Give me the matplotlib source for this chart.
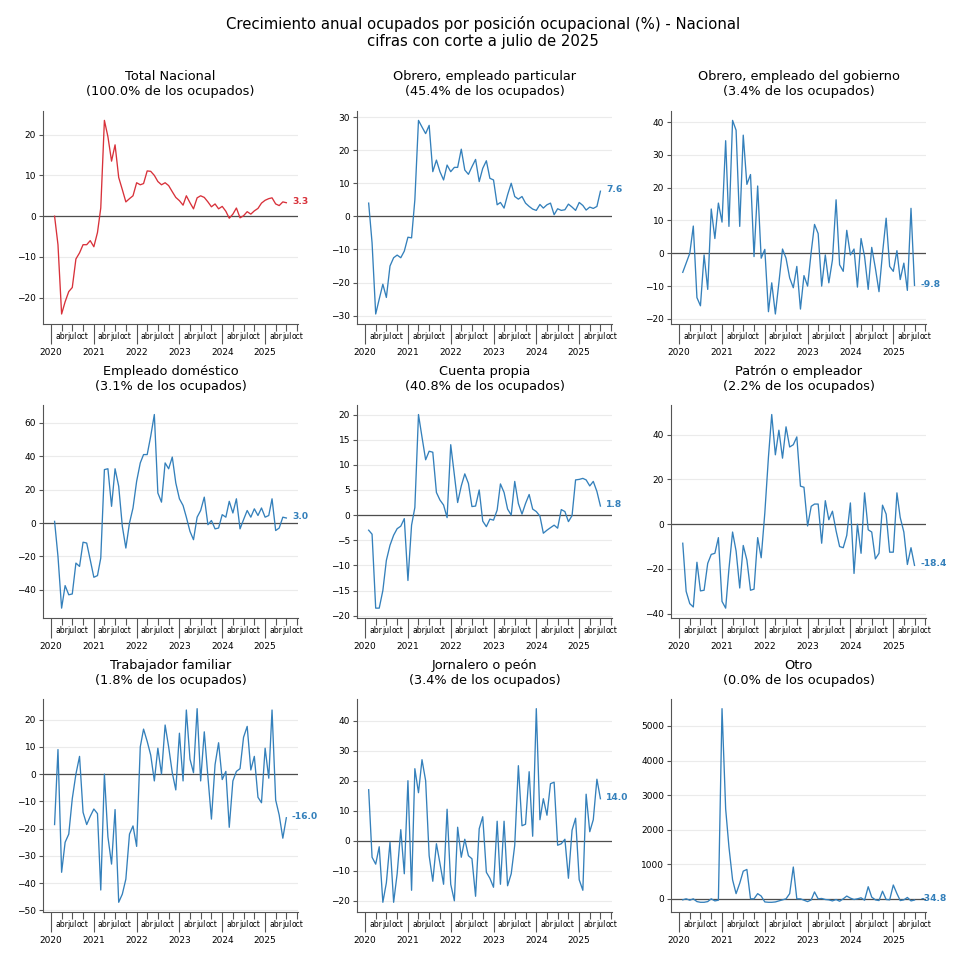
import matplotlib
matplotlib.use("Agg")
from matplotlib import pyplot as plt
import matplotlib.dates as mdates
from matplotlib.ticker import MultipleLocator, FuncFormatter
import numpy as np
import pandas as pd

# meses de feb-2020 a jul-2025
fechas = pd.date_range("2020-02-01", "2025-07-01", freq="MS").to_pydatetime()

categorias = ["Total Nacional", "Obrero, empleado particular",
              "Obrero, empleado del gobierno", "Empleado doméstico",
              "Cuenta propia", "Patrón o empleador", "Trabajador familiar",
              "Jornalero o peón", "Otro"]
participacion = [100.0, 45.4, 3.4, 3.1, 40.8, 2.2, 1.8, 3.4, 0.0]

total_nacional = [0, -7, -24, -21, -18.5, -17.5, -10.5, -9, -7, -7, -6,
                  -7.5, -4, 2, 23.5, 19.5, 13.5, 17.5, 9.5, 6.5, 3.5, 4.3, 5,
                  8.2, 7.7, 8, 11.1, 11, 10, 8.5, 7.7, 8.2, 7.5, 6, 4.6,
                  3.8, 2.7, 5, 3.3, 1.8, 4.5, 5, 4.6, 3.5, 2.3, 3, 1.8,
                  2.4, 1.2, -0.5, 0.5, 2, -0.4, 0.1, 1.1, 0.5, 1.3, 1.9, 3.2,
                  3.9, 4.3, 4.5, 3, 2.6, 3.5, 3.3]
particular = [4, -8, -29.5, -25, -20.5, -24.5, -15, -12.5, -11.7, -12.5, -10.5,
              -6.3, -6.5, 5, 29, 27, 25, 27.5, 13.5, 17, 13.5, 11, 15.5,
              13.5, 14.8, 14.8, 20.3, 14, 12.7, 15, 17.2, 10.5, 14.5, 16.8, 11.5,
              11, 3.5, 4.2, 2.5, 6.5, 10, 6, 5.2, 6, 4, 3, 2.2,
              1.8, 3.6, 2.5, 3.5, 4, 0.5, 2.3, 1.8, 2, 3.7, 2.8, 1.8,
              4.2, 3.3, 1.9, 2.8, 2.4, 3, 7.6]
gobierno = [-5.8, -3, 0, 8.3, -13.5, -16, -0.5, -11, 13.5, 4.5, 15.3,
            9.5, 34.3, 8.2, 40.5, 37.5, 8.2, 36, 21, 24, -1, 20.5, -1.5,
            1.2, -17.8, -9, -18.5, -9, 1.3, -1.5, -7.5, -10.5, -4, -17, -6.8,
            -10, 0.5, 8.8, 6, -10, -0.5, -9, -2, 16.3, -3.5, -5.5, 7,
            -0.5, 1.3, -10.3, 4.5, -1, -11, 1.8, -4.5, -11.7, 0, 10.7, -4,
            -5.5, 0.8, -8, -3, -11.3, 13.7, -9.8]
domestico = [1, -20, -51, -37.5, -43, -42.5, -24, -26, -11.5, -12, -22,
             -32.5, -31.5, -21, 32, 32.5, 10, 32.5, 22, -2, -15, 0, 9,
             25, 36, 41, 41, 52, 65, 18, 12.5, 36, 32.5, 39.5, 24,
             14.5, 10.5, 3.5, -5, -10, 3.5, 7.5, 15.5, -1, 1.5, -3.5, -3,
             5, 3.5, 13, 6, 14.5, -3.5, 2, 7.5, 3.5, 8.5, 4.5, 9,
             3.5, 4.5, 14.5, -4.5, -3, 3.5, 3.0]
cuenta_propia = [-3, -3.8, -18.5, -18.5, -15, -9, -6, -4, -2.7, -2.2, -0.7,
                 -13, -2, 1.5, 20, 15.5, 11, 12.7, 12.5, 4.5, 3, 2, -0.5,
                 14, 8, 2.5, 5.8, 8.2, 6.3, 1.7, 1.8, 5, -1.2, -2.3, -0.8,
                 -1, 1, 6.2, 4.5, 1.2, 0, 6.7, 2.3, 0.2, 2.3, 4.1, 1.2,
                 0.7, -0.2, -3.6, -3, -2.5, -2, -2.6, 1.1, 0.7, -1.3, -0.1, 7,
                 7.1, 7.3, 7, 5.8, 6.7, 4.7, 1.8]
patron = [-8.5, -30, -35.5, -37, -17, -29.8, -29.5, -17.5, -13.5, -13, -6,
          -34.5, -37.5, -20, -3.5, -12, -28.5, -9.5, -16, -29.5, -29, -6, -15,
          5, 30, 49, 31, 42, 29.5, 43.5, 34.5, 35.5, 39, 17, 16.5,
          -0.8, 8, 9, 9, -8.5, 10.5, 2, 5.8, -3, -10, -10.5, -5,
          9.5, -22, 0, -13, 14, -2.5, -3.5, -15.5, -13, 8.5, 4.5, -12.5,
          -12.5, 14, 3, -3.5, -18, -10.5, -18.4]
familiar = [-18.5, 9, -36, -25, -22, -9, 0, 6.5, -14, -18.5, -15.5,
            -12.8, -14.5, -42.5, 0, -23, -33, -13, -47, -44, -38.5, -22, -19,
            -26.5, 10, 16.5, 12, 7, -2.5, 9.5, 0, 18, 10, 0.5, -5.8,
            15, -2.5, 23.5, 5.5, 0.5, 24, -2.5, 15.5, -1, -16.5, 3.5, 11.5,
            -2, 1, -19.5, -2.5, 1, 2, 13.5, 17.5, 1.5, 6.5, -8.5, -10.5,
            9.5, -1.5, 23.5, -9.5, -15, -23.5, -16.0]
jornalero = [17, -5.5, -7.8, -2, -20.5, -14, -0.5, -20.5, -11, 3.7, -11,
             20, -16.5, 24, 16, 27, 20, -5, -13.5, -1, -7.5, -14.5, 10.5,
             -14.5, -20, 4.5, -5.5, 0.5, -5, -6, -18.5, 4, 8, -10.5, -12.5,
             -15.5, 6.5, -14.5, 6.5, -15, -11, -1.5, 25, 5, 5.5, 23, 1.5,
             44, 7, 14, 8.5, 19, 19.5, -1.5, -1, 0.5, -12.5, 3.5, 7.5,
             -13, -16.5, 15.5, 3, 7, 20.5, 14.0]
otro = [-30, 0, -40, 0, -80, -100, -100, -80, 0, -60, -40,
        5500, 2600, 1500, 550, 150, 450, 800, 850, 0, 0, 150, 80,
        -90, -100, -100, -90, -60, -30, 0, 150, 920, 0, 0, -40,
        -80, -30, 200, 0, 10, -20, -30, -60, -20, -70, 0, 80,
        20, -20, 0, 30, -40, 350, 50, -30, -50, 220, -20, -30,
        400, 150, -50, -30, 40, -60, -34.8]

series = [total_nacional, particular, gobierno, domestico, cuenta_propia,
          patron, familiar, jornalero, otro]
pasos_y = [10, 10, 10, 20, 5, 20, 10, 10, 1000]

meses = {4: "abr", 7: "jul", 10: "oct"}

def etiqueta_mes(x, pos):
    return meses.get(mdates.num2date(x).month, "")

fig, axes = plt.subplots(3, 3, figsize=(9.66, 9.71), dpi=100)
fig.subplots_adjust(left=0.0445, right=0.9587, bottom=0.0608, top=0.886,
                    wspace=0.232, hspace=0.381)
fig.suptitle("Crecimiento anual ocupados por posición ocupacional (%) - Nacional\n"
             "cifras con corte a julio de 2025", fontsize=10.7, y=0.984)

for i, ax in enumerate(axes.flat):
    color = "#d8313a" if i == 0 else "#3480bb"
    y = np.array(series[i], dtype=float)
    ax.plot(fechas, y, color=color, lw=0.95)
    ax.axhline(0, color="#4d4d4d", lw=0.9, zorder=1)
    ax.annotate(f"{y[-1]:.1f}", (fechas[-1], y[-1]), xytext=(4, 1),
                textcoords="offset points", ha="left", va="center",
                color=color, fontsize=6.6, fontweight="bold")
    ax.set_title(f"{categorias[i]}\n({participacion[i]:.1f}% de los ocupados)",
                 fontsize=9.3, pad=11)

    ax.xaxis.set_major_locator(mdates.YearLocator())
    ax.xaxis.set_major_formatter(mdates.DateFormatter("%Y"))
    ax.xaxis.set_minor_locator(mdates.MonthLocator(bymonth=[4, 7, 10]))
    ax.xaxis.set_minor_formatter(FuncFormatter(etiqueta_mes))
    ax.yaxis.set_major_locator(MultipleLocator(pasos_y[i]))

    ax.tick_params(axis="x", which="major", length=14.4, width=0.8,
                   pad=3, labelsize=6.5, color="#555555")
    ax.tick_params(axis="x", which="minor", length=5, width=0.8,
                   pad=1, labelsize=5.5, color="#555555")
    ax.tick_params(axis="y", length=3, width=0.8, labelsize=6.5,
                   color="#555555", pad=2)

    ax.grid(axis="y", color="#ebebeb", lw=0.8)
    ax.set_axisbelow(True)
    for lado in ["top", "right"]:
        ax.spines[lado].set_visible(False)
    for lado in ["left", "bottom"]:
        ax.spines[lado].set_color("#555555")
        ax.spines[lado].set_linewidth(0.8)

fig.savefig("out.png", dpi=100, facecolor="white")
